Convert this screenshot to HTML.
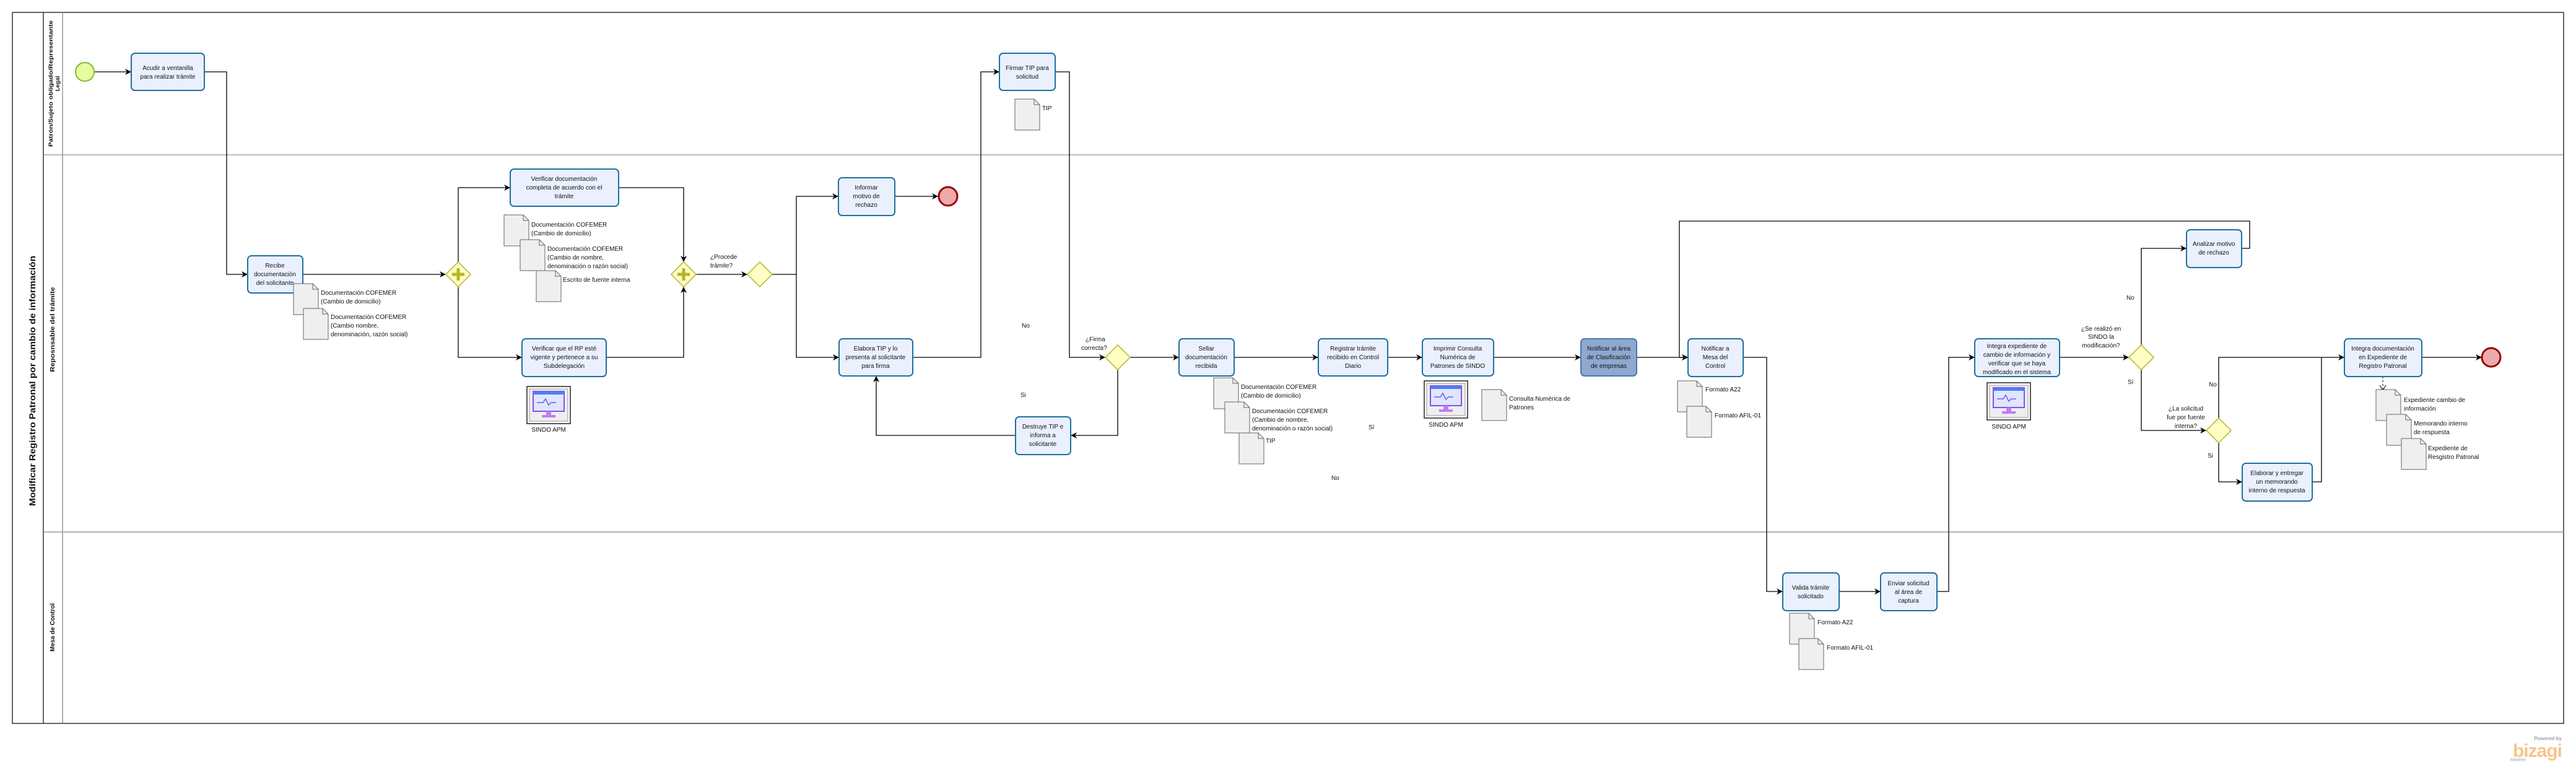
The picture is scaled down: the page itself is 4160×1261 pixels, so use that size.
<!DOCTYPE html>
<html><head><meta charset="utf-8"><style>
html,body{margin:0;padding:0;background:#fff;}
svg{display:block;}
text{font-family:"Liberation Sans",sans-serif;fill:#111;}
.t{font-size:10px;text-anchor:middle;}
.l{font-size:10px;}
.task{fill:#eaf0fd;stroke:#1f6fa0;stroke-width:2;}
.doc{fill:#efefef;stroke:#666;stroke-width:1;}
.c{fill:none;stroke:#000;stroke-width:1.3;}
.gw{fill:#ffffc4;stroke:#b6b32a;stroke-width:1.5;}
</style></head><body>
<svg width="4160" height="1261" viewBox="0 0 4160 1261" xmlns="http://www.w3.org/2000/svg">
<defs>
<marker id="a" viewBox="0 0 10 10" refX="10" refY="5" markerWidth="10" markerHeight="10" markerUnits="userSpaceOnUse" orient="auto"><path d="M0,0 L10,5 L0,10 L3,5 z" fill="#000"/></marker>
<g id="d"><path class="doc" d="M0,0 H31 L40,9 V50 H0 Z"/><path d="M31,0 V9 H40" fill="none" stroke="#666"/></g>
<g id="s"><rect x="0" y="0" width="70" height="60" fill="#fff" stroke="#222" stroke-width="1.5"/><rect x="4" y="4" width="62" height="52" fill="#eee" stroke="#999"/><rect x="10" y="8" width="50" height="32" fill="#dfe6ff" stroke="#8a4cf0" stroke-width="2"/><rect x="10" y="8" width="50" height="5" fill="#4f7df0"/><path d="M16,26 h10 l4,-6 l5,10 l4,-4 h8" fill="none" stroke="#6a5cf0" stroke-width="1.5"/><rect x="31" y="40" width="8" height="6" fill="#c27cf5"/><rect x="24" y="46" width="22" height="4" fill="#c27cf5"/></g>
</defs>
<rect x="20" y="20" width="4120" height="1148" fill="#fff" stroke="#333" stroke-width="1.5"/>
<line x1="70" y1="20" x2="70" y2="1168" stroke="#333" stroke-width="1.5"/>
<line x1="101" y1="20" x2="101" y2="1168" stroke="#666"/>
<line x1="70" y1="250" x2="4140" y2="250" stroke="#777"/>
<line x1="70" y1="859" x2="4140" y2="859" stroke="#999" stroke-width="1.5"/>
<text transform="translate(57,615) rotate(-90)" style="font-size:14px;font-weight:bold;text-anchor:middle" textLength="404" lengthAdjust="spacingAndGlyphs">Modificar Registro Patronal por cambio de información</text>
<text transform="translate(85,135) rotate(-90)" style="font-size:9.5px;font-weight:bold;text-anchor:middle" textLength="204" lengthAdjust="spacingAndGlyphs">Patrón/Sujeto obligado/Representante</text>
<text transform="translate(96,135) rotate(-90)" style="font-size:9.5px;font-weight:bold;text-anchor:middle">Legal</text>
<text transform="translate(88,532) rotate(-90)" style="font-size:10px;font-weight:bold;text-anchor:middle" textLength="137" lengthAdjust="spacingAndGlyphs">Reposnsable del trámite</text>
<text transform="translate(88,1013) rotate(-90)" style="font-size:10px;font-weight:bold;text-anchor:middle">Mesa de Control</text>

<g class="c">
<path d="M152,116 H212" marker-end="url(#a)"/>
<path d="M330,116 H366 V443 H400" marker-end="url(#a)"/>
<path d="M489,443 H720" marker-end="url(#a)"/>
<path d="M740,423 V303 H824" marker-end="url(#a)"/>
<path d="M740,463 V577 H843" marker-end="url(#a)"/>
<path d="M999,303 H1104 V423" marker-end="url(#a)"/>
<path d="M979,577 H1104 V463" marker-end="url(#a)"/>
<path d="M1124,443 H1207" marker-end="url(#a)"/>
<path d="M1247,443 H1286 V317 H1354" marker-end="url(#a)"/>
<path d="M1286,443 V577 H1355" marker-end="url(#a)"/>
<path d="M1445,317 H1515" marker-end="url(#a)"/>
<path d="M1474,577 H1584 V116 H1614" marker-end="url(#a)"/>
<path d="M1704,116 H1727 V577 H1785" marker-end="url(#a)"/>
<path d="M1805,597 V703 H1729" marker-end="url(#a)"/>
<path d="M1640,703 H1415 V607" marker-end="url(#a)"/>
<path d="M1825,577 H1904" marker-end="url(#a)"/>
<path d="M1993,577 H2129" marker-end="url(#a)"/>
<path d="M2241,577 H2297" marker-end="url(#a)"/>
<path d="M2412,577 H2553" marker-end="url(#a)"/>
<path d="M2643,577 H2726" marker-end="url(#a)"/>
<path d="M2815,577 H2853 V955 H2879" marker-end="url(#a)"/>
<path d="M2970,955 H3037" marker-end="url(#a)"/>
<path d="M3128,955 H3147 V577 H3189" marker-end="url(#a)"/>
<path d="M3326,577 H3438" marker-end="url(#a)"/>
<path d="M3458,557 V401 H3531" marker-end="url(#a)"/>
<path d="M3620,401 H3633 V357 H2712 V577 H2726" marker-end="url(#a)"/>
<path d="M3458,597 V695 H3563" marker-end="url(#a)"/>
<path d="M3583,675 V577 H3786" marker-end="url(#a)"/>
<path d="M3583,715 V778 H3621" marker-end="url(#a)"/>
<path d="M3734,778 H3749 V577"/>
<path d="M3911,577 H4008" marker-end="url(#a)"/>
</g>
<path d="M3848,608 V629" stroke="#000" stroke-dasharray="3,3" fill="none"/>
<path d="M3843,622 L3848,630 L3853,622" stroke="#000" fill="none"/>

<circle cx="137" cy="116" r="15" fill="#e6fca0" stroke="#7dbb2c" stroke-width="2"/>
<circle cx="1531" cy="317" r="15" fill="#eeaaaa" stroke="#9b0000" stroke-width="3"/>
<circle cx="4023" cy="577" r="15" fill="#eeaaaa" stroke="#9b0000" stroke-width="3"/>

<path class="gw" d="M740,423 L760,443 L740,463 L720,443 Z"/>
<path d="M740,433 V453 M730,443 H750" stroke="#b6b32a" stroke-width="5"/>
<path class="gw" d="M1104,423 L1124,443 L1104,463 L1084,443 Z"/>
<path d="M1104,433 V453 M1094,443 H1114" stroke="#b6b32a" stroke-width="5"/>
<path class="gw" d="M1227,423 L1247,443 L1227,463 L1207,443 Z"/>
<path class="gw" d="M1805,557 L1825,577 L1805,597 L1785,577 Z"/>
<path class="gw" d="M3458,557 L3478,577 L3458,597 L3438,577 Z"/>
<path class="gw" d="M3583,675 L3603,695 L3583,715 L3563,695 Z"/>

<rect class="task" x="212" y="86" width="118" height="60" rx="6"/>
<text class="t" x="271" y="113">Acudir a ventanilla</text><text class="t" x="271" y="127">para realizar trámite</text>
<rect class="task" x="400" y="413" width="89" height="60" rx="6"/>
<text class="t" x="444" y="432">Recibe</text><text class="t" x="444" y="446">documentación</text><text class="t" x="444" y="460">del solicitante</text>
<rect class="task" x="824" y="273" width="175" height="60" rx="6"/>
<text class="t" x="911" y="292">Verificar documentación</text><text class="t" x="911" y="306">completa de acuerdo con el</text><text class="t" x="911" y="320">trámite</text>
<rect class="task" x="843" y="547" width="136" height="61" rx="6"/>
<text class="t" x="911" y="566">Verificar que el RP esté</text><text class="t" x="911" y="580">vigente y pertenece a su</text><text class="t" x="911" y="594">Subdelegación</text>
<rect class="task" x="1354" y="287" width="91" height="61" rx="6"/>
<text class="t" x="1399" y="306">Informar</text><text class="t" x="1399" y="320">motivo de</text><text class="t" x="1399" y="334">rechazo</text>
<rect class="task" x="1355" y="547" width="119" height="60" rx="6"/>
<text class="t" x="1414" y="566">Elabora TIP y lo</text><text class="t" x="1414" y="580">presenta al solicitante</text><text class="t" x="1414" y="594">para firma</text>
<rect class="task" x="1614" y="86" width="90" height="60" rx="6"/>
<text class="t" x="1659" y="113">Firmar TIP para</text><text class="t" x="1659" y="127">solicitud</text>
<rect class="task" x="1640" y="673" width="89" height="61" rx="6"/>
<text class="t" x="1684" y="692">Destruye TIP e</text><text class="t" x="1684" y="706">informa a</text><text class="t" x="1684" y="720">solicitante</text>
<rect class="task" x="1904" y="547" width="89" height="60" rx="6"/>
<text class="t" x="1948" y="566">Sellar</text><text class="t" x="1948" y="580">documentación</text><text class="t" x="1948" y="594">recibida</text>
<rect class="task" x="2129" y="547" width="112" height="60" rx="6"/>
<text class="t" x="2185" y="566">Registrar trámite</text><text class="t" x="2185" y="580">recibido  en Control</text><text class="t" x="2185" y="594">Diario</text>
<rect class="task" x="2297" y="547" width="115" height="60" rx="6"/>
<text class="t" x="2354" y="566">Imprimir Consulta</text><text class="t" x="2354" y="580">Numérica de</text><text class="t" x="2354" y="594">Patrones de SINDO</text>
<rect x="2553" y="547" width="90" height="60" rx="6" fill="#8ea8cf" stroke="#4d77a8" stroke-width="2"/>
<text class="t" x="2598" y="566">Notificar al área</text><text class="t" x="2598" y="580">de Clasificación</text><text class="t" x="2598" y="594">de empresas</text>
<rect class="task" x="2726" y="547" width="89" height="61" rx="6"/>
<text class="t" x="2770" y="566">Notificar a</text><text class="t" x="2770" y="580">Mesa del</text><text class="t" x="2770" y="594">Control</text>
<rect class="task" x="2879" y="925" width="91" height="61" rx="6"/>
<text class="t" x="2924" y="952">Valida trámite</text><text class="t" x="2924" y="966">solicitado</text>
<rect class="task" x="3037" y="925" width="91" height="61" rx="6"/>
<text class="t" x="3082" y="945">Enviar solicitud</text><text class="t" x="3082" y="959">al área de</text><text class="t" x="3082" y="973">captura</text>
<rect class="task" x="3189" y="547" width="137" height="61" rx="6"/>
<text class="t" x="3257" y="562">Integra expediente de</text><text class="t" x="3257" y="576">cambio de información y</text><text class="t" x="3257" y="590">verificar que se haya</text><text class="t" x="3257" y="604">modificado en el sistema</text>
<rect class="task" x="3531" y="371" width="89" height="61" rx="6"/>
<text class="t" x="3575" y="397">Analizar motivo</text><text class="t" x="3575" y="411">de rechazo</text>
<rect class="task" x="3621" y="748" width="113" height="61" rx="6"/>
<text class="t" x="3677" y="767">Elaborar y entregar</text><text class="t" x="3677" y="781">un memorando</text><text class="t" x="3677" y="795">interno de respuesta</text>
<rect class="task" x="3786" y="547" width="125" height="61" rx="6"/>
<text class="t" x="3848" y="566">Integra documentación</text><text class="t" x="3848" y="580">en Expediente de</text><text class="t" x="3848" y="594">Registro Patronal</text>

<use href="#d" x="474" y="458"/><use href="#d" x="490" y="498"/>
<text class="l" x="518" y="476">Documentación COFEMER</text><text class="l" x="518" y="490">(Cambio de domicilio)</text>
<text class="l" x="534" y="515">Documentación COFEMER</text><text class="l" x="534" y="529">(Cambio nombre,</text><text class="l" x="534" y="543">denominación, razón social)</text>
<use href="#d" x="814" y="347"/><use href="#d" x="840" y="387"/><use href="#d" x="866" y="437"/>
<text class="l" x="858" y="366">Documentación COFEMER</text><text class="l" x="858" y="380">(Cambio de domicilio)</text>
<text class="l" x="884" y="405">Documentación COFEMER</text><text class="l" x="884" y="419">(Cambio de nombre,</text><text class="l" x="884" y="433">denominación o razón social)</text>
<text class="l" x="909" y="455">Escrito de fuente interna</text>
<use href="#s" x="851" y="624"/><text class="l" x="886" y="697" style="text-anchor:middle">SINDO APM</text>
<use href="#d" x="1639" y="160"/><text class="l" x="1683" y="178">TIP</text>
<use href="#d" x="1960" y="610"/><use href="#d" x="1978" y="649"/><use href="#d" x="2001" y="699"/>
<text class="l" x="2004" y="628">Documentación COFEMER</text><text class="l" x="2004" y="642">(Cambio de domicilio)</text>
<text class="l" x="2022" y="667">Documentación COFEMER</text><text class="l" x="2022" y="681">(Cambio de nombre,</text><text class="l" x="2022" y="695">denominación o razón social)</text>
<text class="l" x="2044" y="715">TIP</text>
<use href="#s" x="2300" y="615"/><text class="l" x="2335" y="689" style="text-anchor:middle">SINDO APM</text>
<use href="#d" x="2393" y="629"/><text class="l" x="2437" y="647">Consulta Numérica de</text><text class="l" x="2437" y="661">Patrones</text>
<use href="#d" x="2709" y="615"/><use href="#d" x="2724" y="656"/>
<text class="l" x="2754" y="632">Formato A22</text><text class="l" x="2769" y="674">Formato AFIL-01</text>
<use href="#d" x="2890" y="990"/><use href="#d" x="2905" y="1031"/>
<text class="l" x="2935" y="1008">Formato A22</text><text class="l" x="2950" y="1049">Formato AFIL-01</text>
<use href="#s" x="3209" y="618"/><text class="l" x="3244" y="692" style="text-anchor:middle">SINDO APM</text>
<use href="#d" x="3837" y="629"/><use href="#d" x="3854" y="669"/><use href="#d" x="3878" y="708"/>
<text class="l" x="3882" y="649">Expediente cambio de</text><text class="l" x="3882" y="663">información</text>
<text class="l" x="3898" y="687">Memorando interno</text><text class="l" x="3898" y="701">de respuesta</text>
<text class="l" x="3921" y="727">Expediente de</text><text class="l" x="3921" y="741">Resgistro Patronal</text>

<text class="l" x="1147" y="418">¿Procede</text><text class="l" x="1147" y="432">trámite?</text>
<text class="l" x="1753" y="551">¿Firma</text><text class="l" x="1746" y="565">correcta?</text>
<text class="l" x="1650" y="529">No</text><text class="l" x="1648" y="641">Si</text>
<text class="l" x="2210" y="693">Sí</text><text class="l" x="2150" y="775">No</text>
<text class="l" x="3393" y="534" style="text-anchor:middle">¿Se realizó en</text><text class="l" x="3393" y="547" style="text-anchor:middle">SINDO la</text><text class="l" x="3393" y="561" style="text-anchor:middle">modificación?</text>
<text class="l" x="3434" y="484">No</text><text class="l" x="3436" y="620">Sí</text>
<text class="l" x="3530" y="663" style="text-anchor:middle">¿La solicitud</text><text class="l" x="3530" y="677" style="text-anchor:middle">fue por fuente</text><text class="l" x="3530" y="691" style="text-anchor:middle">interna?</text>
<text class="l" x="3567" y="624">No</text><text class="l" x="3565" y="739">Si</text>

<text x="4137" y="1195" style="font-size:8px;font-weight:bold;fill:#9aa3ab;text-anchor:end">Powered by</text>
<text x="4137" y="1222" style="font-size:30px;font-weight:bold;fill:#f8c48a;text-anchor:end;letter-spacing:-1px">bizagi</text>
<text x="4054" y="1229" style="font-size:7px;fill:#9aa3ab">Modeler</text>
</svg>
</body></html>
